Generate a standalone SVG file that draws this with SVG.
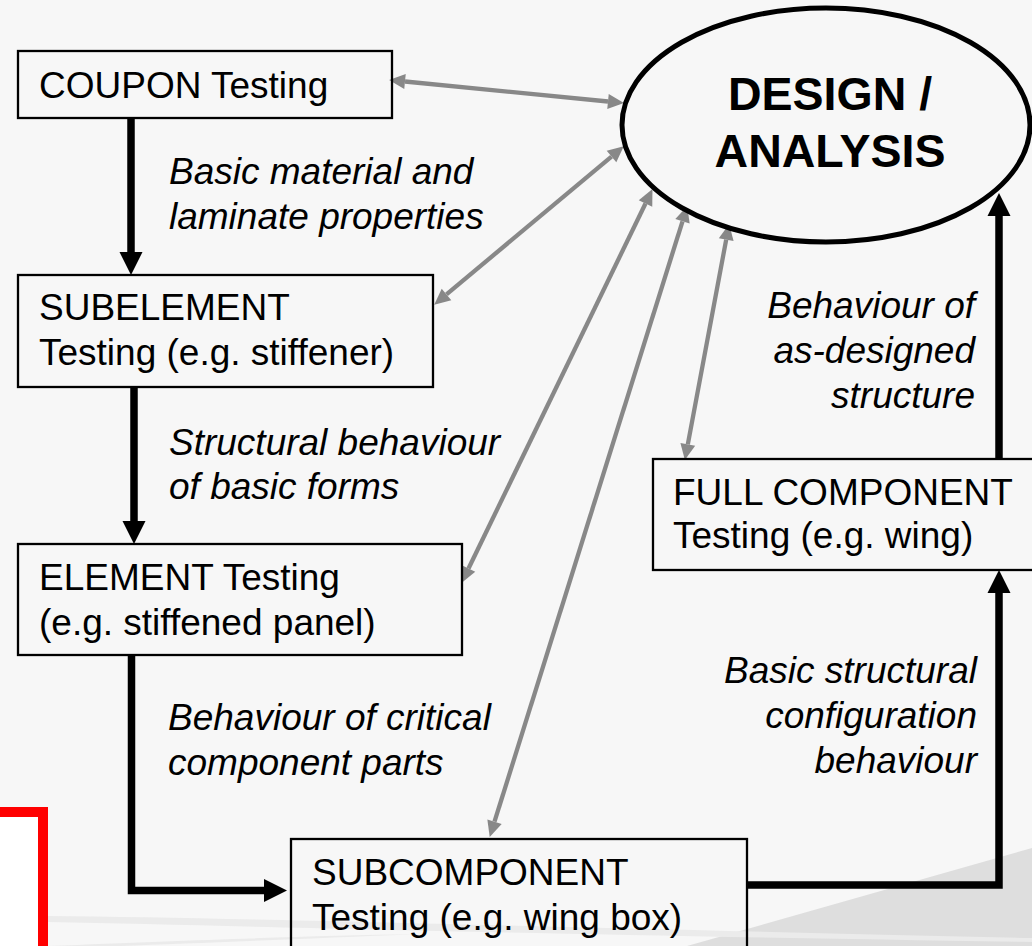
<svg xmlns="http://www.w3.org/2000/svg" width="1032" height="946" viewBox="0 0 1032 946">
  <defs>
    <style>
      .box { fill: none; stroke: #000; stroke-width: 2.3; }
      .node-text { font-family: "Liberation Sans", Arial, sans-serif; font-size: 37px; fill: #000; }
      .label { font-family: "Liberation Sans", Arial, sans-serif; font-size: 37px; font-style: italic; fill: #000; }
      .title { font-family: "Liberation Sans", Arial, sans-serif; font-size: 46.5px; font-weight: bold; fill: #000; text-anchor: middle; }
      .flow { fill: none; stroke: #000; stroke-width: 7.5; stroke-linejoin: miter; marker-end: url(#blackHead); }
      .link { fill: none; stroke: #888; stroke-width: 4.3; marker-start: url(#grayHead); marker-end: url(#grayHead); }
    </style>
    <!-- heads start at the path end and point forward -->
    <marker id="blackHead" markerUnits="userSpaceOnUse" markerWidth="24" markerHeight="24" refX="0" refY="11.5" orient="auto" overflow="visible">
      <path d="M0,0 L23,11.5 L0,23 Z" fill="#000"/>
    </marker>
    <marker id="grayHead" markerUnits="userSpaceOnUse" markerWidth="16" markerHeight="16" refX="0" refY="7.5" orient="auto-start-reverse" overflow="visible">
      <path d="M0,0 L16,7.5 L0,15 Z" fill="#888"/>
    </marker>
  </defs>

  <!-- backdrop -->
  <rect x="0" y="0" width="1032" height="946" fill="#f7f7f7"/>
  <path d="M687,946 L1032,848 L1032,946 Z" fill="#dedede"/>
  <path d="M48,916 C250,918 500,926 1032,938 L1032,942 C500,934 250,926 48,922 Z" fill="#ebebeb"/>
  <path d="M48,946 C200,940 300,936 420,934 C300,939 200,943 120,946 Z" fill="#ebebeb"/>
  <rect x="-10" y="812" width="53" height="150" fill="#fff" stroke="#f00" stroke-width="10"/>

  <!-- connectors -->
  <g id="connectors">
    <path class="flow" d="M131,118 V252"/>
    <path class="flow" d="M134,387 V521"/>
    <path class="flow" d="M131.5,655 V890.5 H264"/>
    <path class="flow" d="M748,885 H999 V593"/>
    <path class="flow" d="M999,459 V216"/>

    <path class="link" d="M405,81.5 L608,101.5"/>
    <path class="link" d="M446.5,294.4 L611.5,156.6"/>
    <path class="link" d="M468.5,568.5 L645.5,203.5"/>
    <path class="link" d="M494.5,821.7 L682.5,221.3"/>
    <path class="link" d="M687.8,444.3 L726.2,239.7"/>
  </g>

  <!-- edge labels -->
  <g id="labels">
    <text class="label" x="169" y="184">Basic material and</text>
    <text class="label" x="169" y="229">laminate properties</text>
    <text class="label" x="169" y="455">Structural behaviour</text>
    <text class="label" x="169" y="499">of basic forms</text>
    <text class="label" x="168" y="730">Behaviour of critical</text>
    <text class="label" x="168" y="775">component parts</text>
    <text class="label" x="977" y="683" text-anchor="end">Basic structural</text>
    <text class="label" x="977" y="728" text-anchor="end">configuration</text>
    <text class="label" x="977" y="773" text-anchor="end">behaviour</text>
    <text class="label" x="975" y="318" text-anchor="end">Behaviour of</text>
    <text class="label" x="975" y="363" text-anchor="end">as-designed</text>
    <text class="label" x="975" y="408" text-anchor="end">structure</text>
  </g>

  <!-- nodes -->
  <g id="design-analysis">
    <ellipse cx="826" cy="125" rx="204" ry="117" fill="#f7f7f7" stroke="#000" stroke-width="5"/>
    <text class="title" x="830" y="110">DESIGN /</text>
    <text class="title" x="830" y="167">ANALYSIS</text>
  </g>

  <g id="coupon">
    <rect class="box" x="18" y="51" width="374" height="67"/>
    <text class="node-text" x="39" y="98">COUPON Testing</text>
  </g>

  <g id="subelement">
    <rect class="box" x="18" y="275" width="415" height="112"/>
    <text class="node-text" x="39" y="320">SUBELEMENT</text>
    <text class="node-text" x="39" y="365">Testing (e.g. stiffener)</text>
  </g>

  <g id="element">
    <rect class="box" x="18" y="544" width="444" height="111"/>
    <text class="node-text" x="39" y="590">ELEMENT Testing</text>
    <text class="node-text" x="39" y="635">(e.g. stiffened panel)</text>
  </g>

  <g id="subcomponent">
    <rect class="box" x="291" y="839" width="456" height="130"/>
    <text class="node-text" x="312" y="885">SUBCOMPONENT</text>
    <text class="node-text" x="312" y="930">Testing (e.g. wing box)</text>
  </g>

  <g id="full-component">
    <rect class="box" x="653" y="459" width="400" height="111"/>
    <text class="node-text" x="673" y="505">FULL COMPONENT</text>
    <text class="node-text" x="673" y="548">Testing (e.g. wing)</text>
  </g>
</svg>
